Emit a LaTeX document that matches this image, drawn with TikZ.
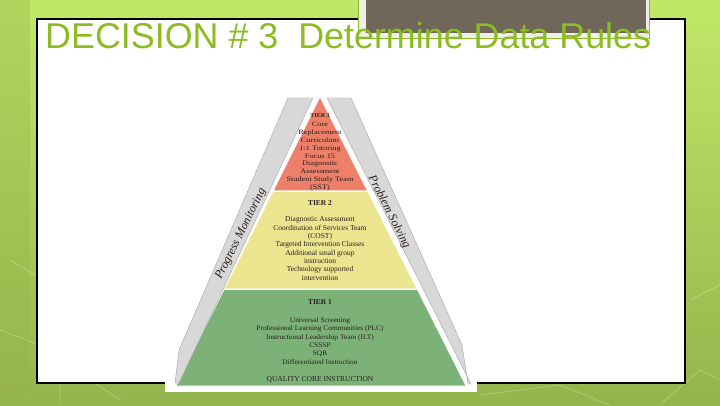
\documentclass[tikz,border=0pt]{standalone}
\usepackage{fontspec}
\setmainfont{Liberation Serif}
\newfontfamily\titlefont{Liberation Sans}
\usetikzlibrary{positioning, calc}
\definecolor{cLime}{RGB}{192,232,104}
\definecolor{cOlive}{RGB}{148,180,76}
\definecolor{cTitle}{RGB}{140,188,34}
\definecolor{cTaupe}{RGB}{112,102,90}
\definecolor{cFrame}{RGB}{238,238,232}
\definecolor{cTierRed}{RGB}{238,128,106}
\definecolor{cTierYellow}{RGB}{236,229,144}
\definecolor{cTierGreen}{RGB}{124,178,120}
\definecolor{cBand}{RGB}{216,216,216}
\definecolor{cBandLine}{RGB}{165,165,165}
\definecolor{cInk}{RGB}{40,30,28}
\tikzset{
	tierhead/.style ={font=\fontsize{7.5}{8}\selectfont\bfseries, inner sep=0pt, text=cInk},
	tiertext/.style ={align=center, inner sep=0pt, text=cInk, transform shape},
	bandlabel/.style={font=\fontsize{12}{14}\selectfont\itshape, inner sep=0pt, text=cInk},
	tierfill/.style ={draw=white, line width=0.6pt},
	band/.style     ={fill=cBand, draw=cBandLine, line width=0.4pt},
	deco/.style     ={draw=white, opacity=0.25, line width=0.8pt},
}
\begin{document}
\begin{tikzpicture}[x=1bp, y=-1bp]
	\useasboundingbox (0,0) rectangle (720,405);
	% slide background
	\shade[top color=cLime, bottom color=cOlive] (0,0) rectangle (720,405);
	\fill[cOlive, opacity=0.35] (0,0) rectangle (30,405);
	\draw[deco] (0,330) -- (40,345) -- (120,400);
	\draw[deco] (10,260) -- (60,290) -- (60,405);
	\draw[deco] (690,300) -- (720,285);
	\draw[deco] (660,405) -- (700,370) -- (720,380);
	\draw[deco] (480,395) -- (560,385) -- (610,405);
	% content box
	\draw[fill=white, line width=1.1pt] (37,19) rectangle (685,383);
	% dark frame at the top
	\draw[cTitle, line width=0.6pt, fill=cFrame] (358,-2) rectangle (649,38);
	\fill[cTaupe] (366,-2) rectangle (646,33);
	% title
	\node[anchor=base west, inner sep=0pt, text=cTitle, font=\titlefont\fontsize{36}{38}\selectfont] (title) at (45,48) {DECISION \# 3\ \ Determine Data Rules};
	% pyramid picture
	\fill[white] (165,85) rectangle (477,392);
	\coordinate (apex) at (320,97);
	\coordinate (baseL) at (176,386);
	\coordinate (baseR) at (466,386);
	\coordinate (cutL1) at ($(apex)!0.325!(baseL)$);
	\coordinate (cutR1) at ($(apex)!0.325!(baseR)$);
	\coordinate (cutL2) at ($(apex)!0.664!(baseL)$);
	\coordinate (cutR2) at ($(apex)!0.664!(baseR)$);
	\fill[tierfill, fill=cTierRed] (apex) -- (cutR1) -- (cutL1) -- cycle;
	\fill[tierfill, fill=cTierYellow] (cutL1) -- (cutR1) -- (cutR2) -- (cutL2) -- cycle;
	\fill[tierfill, fill=cTierGreen] (cutL2) -- (cutR2) -- (baseR) -- (baseL) -- cycle;
	\draw[white, line width=0.6pt] (cutL1) -- (cutR1) (cutL2) -- (cutR2);
	% side bands
	\draw[band] (288,98) -- (313,98) -- (179,383) -- (175,383) -- (179,350) -- cycle;
	\draw[band] (327,98) -- (351,98) -- (462,345) -- (468,384) -- (471,384) -- cycle;
	\node[bandlabel, rotate=63.5] (monitor) at (241,234) {Progress Monitoring};
	\node[bandlabel, rotate=-63] (solving) at (389,212) {Problem Solving};
	% tier 3
	\node[tierhead, font=\fontsize{6}{7}\selectfont\bfseries] (tier3) at (320,115.5) {TIER 3};
	\begin{scope}[shift={(320,156.5)}, xscale=1.22]
		\node[tiertext, font=\fontsize{6.8}{7.85}\selectfont] (tier3txt) at (0,0) {Core\\Replacement\\Curriculum\\1:1 Tutoring\\Focus 15\\Diagnostic\\Assessment\\Student Study Team\\(SST)};
	\end{scope}
	% tier 2
	\node[tierhead] (tier2) at (320,203) {TIER 2};
	\node[tiertext, font=\fontsize{7.5}{8.4}\selectfont] (tier2txt) at (320,248.5) {Diagnostic Assessment\\Coordination of Services Team\\(COST)\\Targeted Intervention Classes\\Additional small group\\instruction\\Technology supported\\intervention};
	% tier 1
	\node[tierhead] (tier1) at (320,302) {TIER 1};
	\begin{scope}[shift={(320,341)}, xscale=1.06]
		\node[tiertext, font=\fontsize{7}{8.4}\selectfont] (tier1txt) at (0,0) {Universal Screening\\Professional Learning Communities (PLC)\\Instructional Leadership Team (ILT)\\CSSSP\\SQR\\Differentiated Instruction};
	\end{scope}
	\node[tierhead, font=\fontsize{7.5}{8}\selectfont] (core) at (320,380) {QUALITY CORE INSTRUCTION};
\end{tikzpicture}
\end{document}
